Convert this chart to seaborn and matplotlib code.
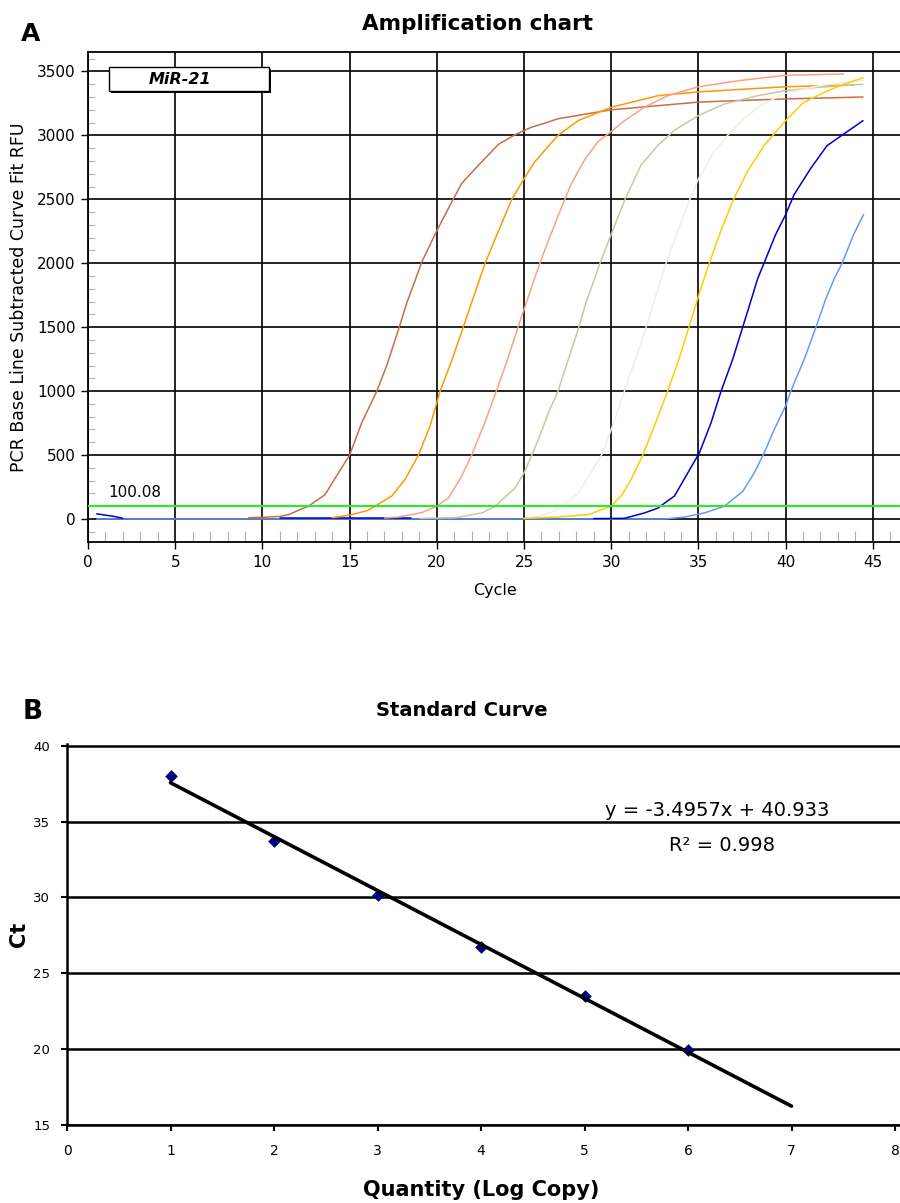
import pandas as pd
import seaborn as sns
import matplotlib.pyplot as plt
from matplotlib.patches import Rectangle
from matplotlib.ticker import MultipleLocator

# ---------------- panel A : amplification curves (cycle, RFU)
s1_cycle = [9.2, 10, 11, 11.5, 12.1, 12.64, 13.59, 14.36, 15, 15.7, 16.56, 17.13, 17.8, 18.28, 18.85,
            19.14, 20, 20.67, 21.43, 22.39, 23.54, 24.49, 25.45, 26.3, 26.95, 30, 35, 36.86, 40, 44.44]
s1_rfu = [10, 13, 20, 34, 70, 100, 190, 360, 500, 754, 1000, 1200, 1480, 1690, 1900,
          2010, 2254, 2430, 2625, 2767, 2930, 3005, 3065, 3100, 3130, 3200, 3260, 3270, 3285, 3300]

s2_cycle = [14, 15, 16, 16.46, 17.42, 18.18, 18.95, 19.62, 20.19, 20.86, 21.53, 22.2, 22.77, 23.54,
            24.3, 25, 25.6, 26.3, 26.95, 28.1, 30, 32.67, 35, 40, 43.9]
s2_rfu = [10, 30, 65, 100, 180, 310, 500, 730, 1000, 1240, 1505, 1775, 2000, 2254,
          2500, 2660, 2790, 2900, 3000, 3115, 3220, 3310, 3340, 3380, 3395]

s3_cycle = [17, 17.8, 19.14, 20, 20.67, 21.43, 22, 22.77, 23.44, 24.11, 24.68, 25.26, 25.55, 26.1,
            26.95, 27.71, 28.48, 29.24, 30, 30.76, 31.9, 33.24, 35, 37.43, 40, 43.33]
s3_rfu = [8, 15, 50, 100, 165, 335, 500, 760, 1010, 1270, 1510, 1740, 1860, 2070,
          2370, 2620, 2810, 2950, 3030, 3115, 3220, 3310, 3380, 3430, 3470, 3480]

s4_cycle = [19.04, 21.05, 22.58, 23.35, 24.49, 25, 25.45, 25.93, 26.4, 26.95, 27.52, 28.1, 28.57,
            29.05, 29.33, 30, 30.76, 31.71, 32.67, 33.62, 35, 36.48, 38.38, 40, 41.83, 44.44]
s4_rfu = [5, 10, 47, 100, 243, 360, 500, 660, 830, 1000, 1240, 1480, 1700,
          1880, 1990, 2225, 2490, 2767, 2920, 3040, 3155, 3245, 3310, 3350, 3375, 3400]

s5_cycle = [25, 26, 26.95, 28.1, 29.05, 29.52, 30, 30.76, 31.34, 32, 32.5, 33.1, 33.8, 34.48,
            35, 35.9, 36.67, 37.62, 38.57, 40, 42, 44.44]
s5_rfu = [5, 25, 73, 200, 410, 518, 700, 1000, 1230, 1500, 1720, 1980, 2250, 2490,
          2660, 2870, 3000, 3130, 3235, 3330, 3390, 3430]

s6_cycle = [25, 26.95, 28.7, 30, 30.57, 31.15, 31.81, 32.48, 33.24, 33.91, 34.39, 34.77, 35.11,
            35.52, 36.29, 36.95, 37.8, 38.76, 40, 41.05, 42.2, 43.33, 44.44]
s6_rfu = [5, 15, 35, 100, 180, 310, 500, 730, 1000, 1260, 1470, 1640, 1790,
          1960, 2254, 2480, 2715, 2920, 3115, 3260, 3335, 3400, 3450]

s7_cycle = [29, 30.76, 31.9, 32.67, 33.63, 34.39, 35.06, 35.73, 36.3, 36.97, 37.54, 38.11, 38.4,
            38.76, 39.43, 40, 40.48, 41.43, 42.38, 43.33, 44.44]
s7_rfu = [3, 5, 47, 85, 180, 360, 518, 754, 1000, 1250, 1500, 1750, 1880,
          2000, 2225, 2380, 2535, 2740, 2920, 3010, 3115]
s7_early_cycle = [0.5, 1.0, 1.5, 2.0]
s7_early_rfu = [40, 30, 20, 5]
s7_base_cycle = [11, 18.5]
s7_base_rfu = [4, 4]

s8_cycle = [0.5, 10, 20, 33.05, 34.2, 35.34, 36.49, 37.54, 38.2, 38.78, 39.35, 40, 40.3, 41.07,
            41.74, 42.3, 42.79, 43.24, 43.9, 44.47]
s8_rfu = [0, 0, 0, 0, 15, 47, 100, 215, 360, 520, 700, 885, 1000, 1250,
          1500, 1720, 1880, 2000, 2225, 2380]

sample_colors = {
    's8': '#6699FF', 's1': '#C86E46', 's2': '#FF9900', 's3': '#FF9F80',
    's4': '#C8C8A0', 's5': '#F2EEE2', 's6': '#FFCC00', 's7': '#0000CC',
}
threshold = 100.08

# ---------------- panel B : standard curve
log_copy = [1, 2, 3, 4, 5, 6]
ct = [38.0, 33.75, 30.15, 26.75, 23.5, 19.95]


def build_frame():
    parts = [
        ('s8', s8_cycle, s8_rfu), ('s7b', s7_base_cycle, s7_base_rfu),
        ('s1', s1_cycle, s1_rfu), ('s2', s2_cycle, s2_rfu),
        ('s3', s3_cycle, s3_rfu), ('s4', s4_cycle, s4_rfu), ('s5', s5_cycle, s5_rfu),
        ('s6', s6_cycle, s6_rfu), ('s7', s7_cycle, s7_rfu), ('s7e', s7_early_cycle, s7_early_rfu),
    ]
    frames = [pd.DataFrame({'Cycle': c, 'RFU': r, 'sample': n}) for n, c, r in parts]
    return pd.concat(frames, ignore_index=True)


sns.set_style('ticks')
plt.rcParams['font.family'] = ['DejaVu Sans']
plt.rcParams['text.color'] = 'black'
plt.rcParams['axes.labelcolor'] = 'black'
plt.rcParams['xtick.color'] = 'black'
plt.rcParams['ytick.color'] = 'black'

W, H = 900, 1203
fig = plt.figure(figsize=(9, 12.03), dpi=100)

# ---------- A
ax1 = fig.add_axes([88 / W, 1 - 542 / H, (W - 88) / W, (542 - 52) / H])
df = build_frame()
pal = dict(sample_colors)
pal['s7e'] = sample_colors['s7']
pal['s7b'] = sample_colors['s7']
sns.lineplot(data=df, x='Cycle', y='RFU', hue='sample', palette=pal,
             hue_order=['s8', 's7b', 's1', 's2', 's3', 's4', 's5', 's6', 's7', 's7e'],
             estimator=None, sort=False, legend=False, linewidth=1.1, ax=ax1, zorder=3)
ax1.axhline(threshold, color='#33E633', lw=1.6, zorder=4)
ax1.text(1.15, 207, f'{threshold:.2f}', fontsize=11, va='center', ha='left')

ax1.set_xlim(0, (W - 88) / 17.44)
ax1.set_ylim(-180, 3652)
ax1.set_xticks(range(0, 46, 5))
ax1.set_yticks(range(0, 3501, 500))
ax1.xaxis.set_minor_locator(MultipleLocator(1))
ax1.yaxis.set_minor_locator(MultipleLocator(100))
ax1.grid(True, which='major', color='black', lw=1.2)
ax1.tick_params(which='major', direction='out', length=5, width=1, color='black',
                labelsize=11, pad=4)
ax1.tick_params(axis='x', which='minor', direction='in', length=8, width=0.8, color='#B0B0B0')
ax1.tick_params(axis='y', which='minor', direction='in', length=5, width=0.8, color='#B0B0B0')
for side in ['left', 'bottom', 'top']:
    ax1.spines[side].set_color('black')
    ax1.spines[side].set_linewidth(1.3)
ax1.spines['right'].set_visible(False)
ax1.set_xlabel('Cycle', fontsize=11.5)
ax1.xaxis.set_label_coords((495 - 88) / (W - 88), -(583 - 542) / 490)
ax1.xaxis.label.set_va('top')
ax1.set_ylabel('PCR Base Line Subtracted Curve Fit RFU', fontsize=12.5)
ax1.yaxis.set_label_coords(-(88 - 28) / (W - 88), 0.5)

# legend box with shadow
ax1.add_patch(Rectangle((1.32, 3330), 9.18, 187, facecolor='black', edgecolor='none', zorder=6))
ax1.add_patch(Rectangle((1.2, 3348), 9.18, 187, facecolor='white', edgecolor='black', lw=1, zorder=7))
ax1.text(5.3, 3440, 'MiR-21', fontsize=11.5, weight='bold', style='italic',
         ha='center', va='center', zorder=8)

fig.text(478 / W, 1 - 24 / H, 'Amplification chart', fontsize=15.5, weight='bold',
         ha='center', va='center')
fig.text(31 / W, 1 - 34 / H, 'A', fontsize=18, weight='bold', ha='center', va='center')

# ---------- B
ax2 = fig.add_axes([67 / W, 1 - 1125 / H, (W - 67) / W, (1125 - 744) / H])
ax2.set_xlim(1, 7)
sns.regplot(x=log_copy, y=ct, ci=None, truncate=False, marker='D', ax=ax2,
            scatter_kws={'s': 42, 'color': '#000080', 'alpha': 1, 'zorder': 2, 'linewidths': 0},
            line_kws={'color': 'black', 'lw': 2.6, 'zorder': 3})
ax2.set_xlim(0, (W - 67) / 103.5)
ax2.set_ylim(15, 40.12)
ax2.set_xticks(range(0, 9))
ax2.set_yticks(range(15, 41, 5))
ax2.yaxis.grid(True, color='black', lw=1.8)
ax2.xaxis.grid(False)
ax2.spines['top'].set_visible(False)
ax2.spines['right'].set_visible(False)
for side in ['left', 'bottom']:
    ax2.spines[side].set_color('black')
    ax2.spines[side].set_linewidth(1.8)
ax2.tick_params(axis='x', direction='out', length=4, width=1.5, color='black', labelsize=10, pad=10)
ax2.tick_params(axis='y', direction='out', length=4, width=1.5, color='black', labelsize=9.5, pad=8)
ax2.set_xlabel('Quantity (Log Copy)', fontsize=15, weight='bold')
ax2.xaxis.set_label_coords((481 - 67) / (W - 67), -(1180 - 1125) / 381)
ax2.xaxis.label.set_va('top')
ax2.set_ylabel('Ct', fontsize=15, weight='bold')
ax2.yaxis.set_label_coords(-(67 - 29) / (W - 67), 0.5)

ax2.text(6.28, 35.75, 'y = -3.4957x + 40.933', fontsize=14, ha='center', va='center')
ax2.text(6.33, 33.4, 'R² = 0.998', fontsize=14, ha='center', va='center')

fig.text(462 / W, 1 - 711 / H, 'Standard Curve', fontsize=14, weight='bold',
         ha='center', va='center')
fig.text(33 / W, 1 - 712 / H, 'B', fontsize=19, weight='bold', ha='center', va='center')

plt.savefig('out.png', dpi=100)
